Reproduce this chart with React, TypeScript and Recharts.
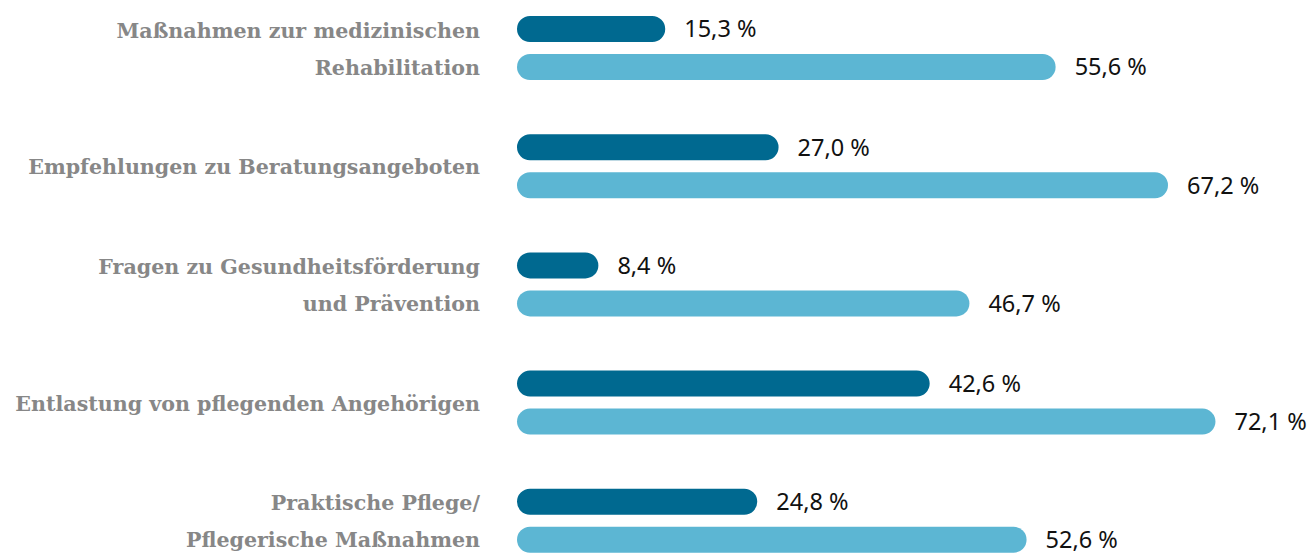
import React from "react";
import { BarChart, Bar, XAxis, YAxis, LabelList } from "recharts";

const categories = [
  "Maßnahmen zur medizinischen\nRehabilitation",
  "Empfehlungen zu Beratungsangeboten",
  "Fragen zu Gesundheitsförderung\nund Prävention",
  "Entlastung von pflegenden Angehörigen",
  "Praktische Pflege/\nPflegerische Maßnahmen",
];
const darkValues = [15.3, 27.0, 8.4, 42.6, 24.8];
const lightValues = [55.6, 67.2, 46.7, 72.1, 52.6];

const data = categories.map((name, i) => ({
  name,
  dark: darkValues[i],
  light: lightValues[i],
}));

const formatPct = (v: number) => `${v.toFixed(1).replace(".", ",")} %`;

const CategoryTick = (props: any) => {
  const { x, y, payload } = props;
  const lines: string[] = String(payload.value).split("\n");
  const lineGap = 37;
  const startY = y + 1 - ((lines.length - 1) * lineGap) / 2;
  return (
    <text
      x={x}
      y={startY}
      textAnchor="end"
      dominantBaseline="central"
      fill="#878787"
      fontFamily="'DejaVu Serif', serif"
      fontWeight="bold"
      fontSize={20.6}
    >
      {lines.map((line, i) => (
        <tspan key={i} x={x} y={startY + i * lineGap}>
          {line}
        </tspan>
      ))}
    </text>
  );
};

const App = () => {
  return (
    <div style={{ position: "absolute", left: 0, top: -20, background: "#fff" }}>
      <BarChart
        width={1316}
        height={620}
        data={data}
        layout="vertical"
        margin={{ top: 9, right: 24, bottom: 20, left: 0 }}
        barSize={26}
        barGap={12}
      >
        <XAxis type="number" domain={[0, 80]} hide />
        <YAxis
          type="category"
          dataKey="name"
          width={517}
          axisLine={false}
          tickLine={false}
          tickSize={0}
          tickMargin={37}
          tick={<CategoryTick />}
        />
        <Bar dataKey="dark" fill="#006990" radius={13} isAnimationActive={false}>
          <LabelList
            dataKey="dark"
            position="right"
            offset={19}
            formatter={(v: any) => formatPct(Number(v))}
            fill="#111"
            fontFamily="'Noto Sans', sans-serif"
            fontSize={23.5}
          />
        </Bar>
        <Bar dataKey="light" fill="#5cb6d3" radius={13} isAnimationActive={false}>
          <LabelList
            dataKey="light"
            position="right"
            offset={19}
            formatter={(v: any) => formatPct(Number(v))}
            fill="#111"
            fontFamily="'Noto Sans', sans-serif"
            fontSize={23.5}
          />
        </Bar>
      </BarChart>
    </div>
  );
};

export default App;
